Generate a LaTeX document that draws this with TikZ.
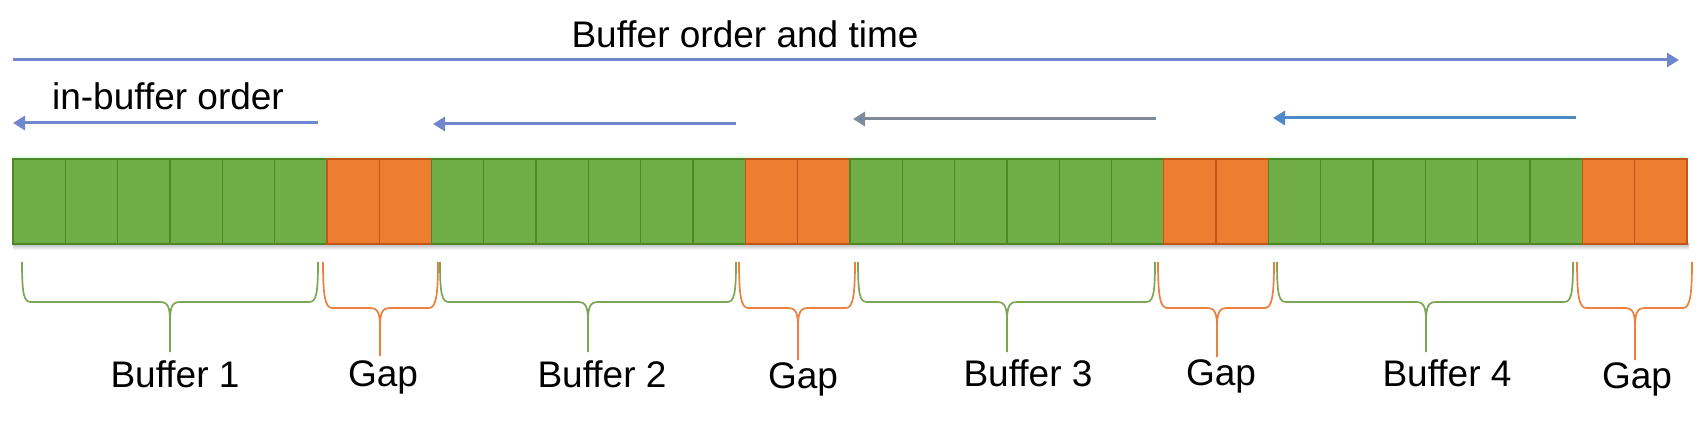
\documentclass[tikz,border=0pt]{standalone}
\usepackage{fontspec}
\setmainfont{Liberation Sans}
\usetikzlibrary{arrows.meta}
\definecolor{cellgreen}{RGB}{112,173,71}
\definecolor{cellgreenline}{RGB}{78,135,40}
\definecolor{cellorange}{RGB}{237,125,49}
\definecolor{cellorangeline}{RGB}{195,85,25}
\definecolor{arrowperi}{RGB}{110,135,205}
\definecolor{arrowgray}{RGB}{128,138,152}
\definecolor{arrowblue}{RGB}{78,138,200}
\definecolor{bracegreen}{RGB}{125,165,85}
\definecolor{braceorange}{RGB}{236,128,62}
\newcommand{\mybrace}[6]{%
  \draw[#6] (#1,262) .. controls (#1,295) and ({#1+2},#4) .. ({#1+9},#4)
    -- ({#3-10},#4) .. controls ({#3-2},#4) and (#3,{#4+5}) .. (#3,{#4+20}) -- (#3,#5);
  \draw[#6] (#2,262) .. controls (#2,295) and ({#2-2},#4) .. ({#2-9},#4)
    -- ({#3+10},#4) .. controls ({#3+2},#4) and (#3,{#4+5}) .. (#3,{#4+20});
}
\tikzset{
  gcell/.style={draw=cellgreenline, line width=1.3pt, fill=cellgreen, minimum width=52.31pt, minimum height=85pt, inner sep=0pt, outer sep=0pt},
  ocell/.style={draw=cellorangeline, line width=1.3pt, fill=cellorange, minimum width=52.31pt, minimum height=85pt, inner sep=0pt, outer sep=0pt},
  lbl/.style={font=\fontsize{37}{44}\selectfont, anchor=base, inner sep=0pt, text=black},
  flow/.style={line width=3pt, -{Triangle[length=12pt,width=14pt]}},
  bufbrace/.style={draw=bracegreen, line width=1.7pt},
  gapbrace/.style={draw=braceorange, line width=1.7pt},
}
\begin{document}
\begin{tikzpicture}[x=1pt,y=-1pt]
\useasboundingbox (0,0) rectangle (1697,422);
% shadow under the bar
\shade[top color=black!30, bottom color=white] (13,243) rectangle (1689,250);
% highlight above the bar
\fill[green!10] (13,156) rectangle (1687,159);
% cells
\foreach \g in {0,1,2,3} {
  \foreach \c in {0,...,5} {
    \node[gcell] (g\g c\c) at ({13+(\g*8+\c+0.5)*52.31},201.5) {};
  }
  \foreach \c in {6,7} {
    \node[ocell] (g\g c\c) at ({13+(\g*8+\c+0.5)*52.31},201.5) {};
  }
}
% top arrow
\coordinate (ts) at (13,60);
\coordinate (te) at (1679,60);
\draw[flow, arrowperi] (ts) -- (te);
\node[lbl] (title) at (745,48) {Buffer order and time};
% in-buffer arrows
\coordinate (a1s) at (318,123);  \coordinate (a1e) at (13,123);
\coordinate (a2s) at (736,124);  \coordinate (a2e) at (433,124);
\coordinate (a3s) at (1156,119); \coordinate (a3e) at (853,119);
\coordinate (a4s) at (1576,118); \coordinate (a4e) at (1273,118);
\draw[flow, arrowperi] (a1s) -- (a1e);
\draw[flow, arrowperi] (a2s) -- (a2e);
\draw[line width=3pt, arrowgray, -{Triangle[length=12pt,width=14pt,fill=arrowblue]}] (a3s) -- (a3e);
\draw[flow, arrowblue] (a4s) -- (a4e);
\node[lbl] (inbuf) at (168,110) {in-buffer order};
% braces
\mybrace{22}{318}{170}{302}{352}{bufbrace}
\mybrace{323}{438}{380}{308}{356}{gapbrace}
\mybrace{440}{736}{588}{302}{352}{bufbrace}
\mybrace{739}{855}{798}{308}{360}{gapbrace}
\mybrace{858}{1155}{1007}{302}{352}{bufbrace}
\mybrace{1158}{1274}{1217}{308}{357}{gapbrace}
\mybrace{1277}{1573}{1426}{302}{352}{bufbrace}
\mybrace{1577}{1692}{1635}{308}{360}{gapbrace}
% labels
\node[lbl] (b1) at (175,387) {Buffer 1};
\node[lbl] (gp1) at (383,386) {Gap};
\node[lbl] (b2) at (602,387) {Buffer 2};
\node[lbl] (gp2) at (803,388) {Gap};
\node[lbl] (b3) at (1028,386) {Buffer 3};
\node[lbl] (gp3) at (1221,385) {Gap};
\node[lbl] (b4) at (1447,386) {Buffer 4};
\node[lbl] (gp4) at (1637,388) {Gap};
\end{tikzpicture}
\end{document}
